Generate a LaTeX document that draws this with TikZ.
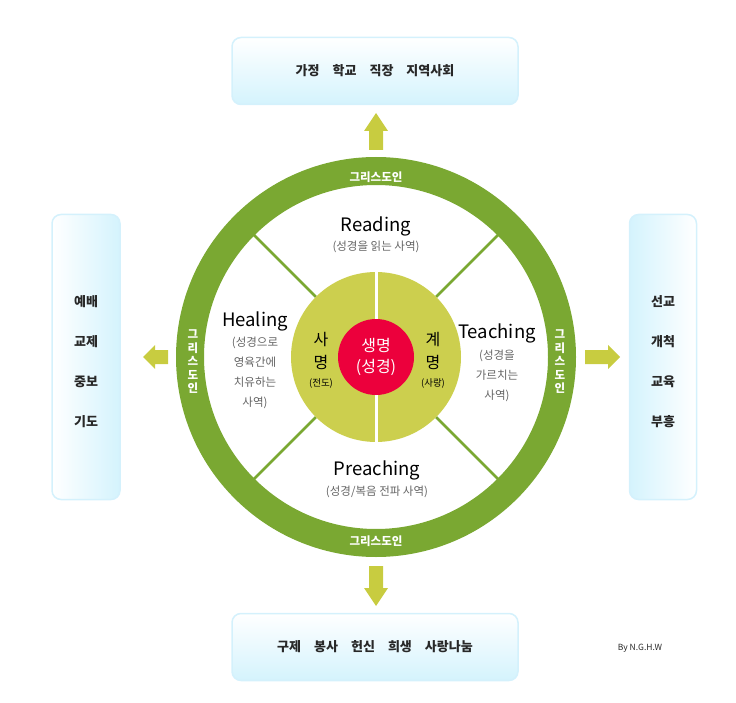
\documentclass[tikz,border=0pt]{standalone}
\usepackage{fontspec}
\usetikzlibrary{calc}
\setmainfont{Noto Sans CJK KR}
\definecolor{ringg}{RGB}{122,168,50}
\definecolor{yel}{RGB}{204,207,78}
\definecolor{redc}{RGB}{236,0,60}
\definecolor{arr}{RGB}{200,204,64}
\definecolor{bord}{RGB}{212,241,252}
\definecolor{cyf}{RGB}{212,243,253}
\definecolor{txt}{RGB}{40,40,40}
\definecolor{subt}{RGB}{100,100,100}
\begin{document}
\begin{tikzpicture}[x=1pt,y=-1pt,
  boxh/.style={draw=bord,line width=1.5pt,rounded corners=9pt,top color=white,bottom color=cyf},
  boxl/.style={draw=bord,line width=1.5pt,rounded corners=9pt,left color=white,right color=cyf},
  boxr/.style={draw=bord,line width=1.5pt,rounded corners=9pt,left color=cyf,right color=white},
  btxt/.style={font=\fontsize{13}{15}\selectfont\bfseries,text=txt},
  title/.style={font=\fontsize{18.5}{21}\selectfont,text=black},
  sub/.style={font=\fontsize{11.5}{20}\selectfont,text=subt,align=center},
  ringtxt/.style={font=\fontsize{11.5}{13}\selectfont\bfseries,text=white},
  arrowc/.style={fill=arr,draw=none},
  spoke/.style={draw=ringg,line width=2.5pt}]
\useasboundingbox (0,0) rectangle (736,703);
% boxes
\node[boxh,minimum width=286pt,minimum height=67pt] (top) at (375,71) {};
\node[btxt] at (top) {가정\quad 학교\quad 직장\quad 지역사회};
\node[boxh,minimum width=286pt,minimum height=67pt] (bot) at (375,647) {};
\node[btxt] at (bot) {구제\quad 봉사\quad 헌신\quad 희생\quad 사랑나눔};
\node[boxl,minimum width=68pt,minimum height=285pt] (lb) at (86,357) {};
\node[boxr,minimum width=67pt,minimum height=285pt] (rb) at (663,357) {};
\node[btxt] (l1) at (86,302) {예배};
\node[btxt] (l2) at (86,342) {교제};
\node[btxt] (l3) at (86,382) {중보};
\node[btxt] (l4) at (86,422) {기도};
\node[btxt] (r1) at (663,302) {선교};
\node[btxt] (r2) at (663,342) {개척};
\node[btxt] (r3) at (663,382) {교육};
\node[btxt] (r4) at (663,422) {부흥};
% ring
\coordinate (c) at (376,357);
\draw[ringg,line width=28pt] (c) circle[radius=186];
% spokes
\foreach \a in {45,135,225,315}
  \draw[spoke] ($(c)+(\a:85)$) -- ($(c)+(\a:173)$);
% yellow circle
\fill[yel] (c) circle[radius=85];
\draw[white,line width=3pt] (376,271) -- (376,443);
\fill[redc] (c) circle[radius=38];
% center texts
\node[font=\fontsize{16}{21}\selectfont,text=white,align=center] (core) at (376,357) {생명\\(성경)};
\node[font=\fontsize{16}{18}\selectfont,text=black] (sa1) at (321,340) {사};
\node[font=\fontsize{16}{18}\selectfont,text=black] (sa2) at (321,362) {명};
\node[font=\fontsize{9.5}{11}\selectfont,text=black] (sa3) at (321,384) {(전도)};
\node[font=\fontsize{16}{18}\selectfont,text=black] (ge1) at (433,340) {계};
\node[font=\fontsize{16}{18}\selectfont,text=black] (ge2) at (433,362) {명};
\node[font=\fontsize{9.5}{11}\selectfont,text=black] (ge3) at (433,384) {(사랑)};
% quadrant labels
\node[title] (rd) at (376,226) {Reading};
\node[sub] (rds) at (376,247) {(성경을 읽는 사역)};
\node[title] (hl) at (255,321) {Healing};
\node[sub] (hls) at (255,373) {(성경으로\\영육간에\\치유하는\\사역)};
\node[title] (tc) at (497,333) {Teaching};
\node[sub] (tcs) at (497,376) {(성경을\\가르치는\\사역)};
\node[title] (pr) at (377,470) {Preaching};
\node[sub] (prs) at (377,492) {(성경/복음 전파 사역)};
% ring labels
\node[ringtxt] (rt) at (376,177) {그리스도인};
\node[ringtxt] (rbm) at (376,541) {그리스도인};
\node[ringtxt,align=center,font=\fontsize{11.5}{13.5}\selectfont\bfseries] (rl) at (193,362) {그\\리\\스\\도\\인};
\node[ringtxt,align=center,font=\fontsize{11.5}{13.5}\selectfont\bfseries] (rr) at (560,362) {그\\리\\스\\도\\인};
% arrows
\fill[arrowc] (376,113) -- (388,131) -- (383,131) -- (383,150) -- (369,150) -- (369,131) -- (364,131) -- cycle;
\fill[arrowc] (376,606) -- (388,588) -- (383,588) -- (383,566) -- (369,566) -- (369,588) -- (364,588) -- cycle;
\fill[arrowc] (143,357) -- (155,345) -- (155,350) -- (168,350) -- (168,364) -- (155,364) -- (155,369) -- cycle;
\fill[arrowc] (620,357) -- (608,345) -- (608,350) -- (585,350) -- (585,364) -- (608,364) -- (608,369) -- cycle;
\node[font=\fontsize{8.5}{10}\selectfont,text=txt] (by) at (640,648) {By N.G.H.W};
\end{tikzpicture}
\end{document}
